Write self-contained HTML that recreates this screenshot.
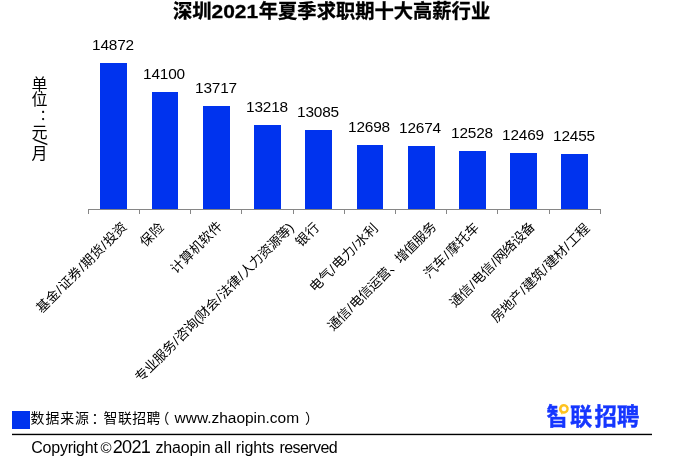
<!DOCTYPE html>
<html lang="zh-CN">
<head>
<meta charset="utf-8">
<title>深圳2021年夏季求职期十大高薪行业</title>
<style>
html,body{margin:0;padding:0;background:#fff;}
body{width:687px;height:462px;overflow:hidden;position:relative;font-family:"Liberation Sans","Noto Sans CJK SC",sans-serif;}
svg{position:absolute;left:0;top:0;display:block;}
svg text{font-family:"Liberation Sans","Noto Sans CJK SC",sans-serif;fill:#000;}
.t{font-size:19.3px;font-weight:bold;stroke:#000;stroke-width:0.3px;}
.v{font-size:15.4px;text-anchor:middle;letter-spacing:-0.15px;}
.c{font-size:13.3px;text-anchor:end;}
.u{font-size:16px;text-anchor:middle;}
.bar{fill:#0033ee;shape-rendering:crispEdges;}
.ax{fill:#868686;shape-rendering:crispEdges;}
</style>
</head>
<body>
<svg width="687" height="462" viewBox="0 0 687 462">
<rect x="0" y="0" width="687" height="462" fill="#ffffff"/>
<!-- title -->
<text class="t"><tspan x="173" y="18.2">深圳</tspan><tspan x="211.5" y="17.6" style="font-size:18.4px" textLength="46.6" lengthAdjust="spacingAndGlyphs">2021</tspan><tspan x="258.8" y="18.2">年夏季求职期十大高薪行业</tspan></text>
<!-- y axis unit -->
<text class="u"><tspan x="39.4" y="89.5">单</tspan><tspan x="39.4" y="105.2">位</tspan><tspan x="39.4" y="120.4" style="font-size:14.5px;text-anchor:start">：</tspan><tspan x="39.4" y="137.8">元</tspan><tspan x="34.37" y="138.74" rotate="96" style="font-size:18.5px;text-anchor:start">/</tspan><tspan x="39.4" y="159.3" rotate="0">月</tspan></text>
<!-- bars -->
<rect class="bar" x="100" y="63" width="27" height="146"/>
<rect class="bar" x="152" y="92" width="26" height="117"/>
<rect class="bar" x="203" y="106" width="27" height="103"/>
<rect class="bar" x="254" y="125" width="27" height="84"/>
<rect class="bar" x="305" y="130" width="27" height="79"/>
<rect class="bar" x="357" y="145" width="26" height="64"/>
<rect class="bar" x="408" y="146" width="27" height="63"/>
<rect class="bar" x="459" y="151" width="27" height="58"/>
<rect class="bar" x="510" y="153" width="27" height="56"/>
<rect class="bar" x="561" y="154" width="27" height="55"/>
<!-- axis -->
<rect class="ax" x="88" y="209" width="513" height="1"/>
<rect class="ax" x="88" y="209" width="1" height="5"/>
<rect class="ax" x="139" y="209" width="1" height="5"/>
<rect class="ax" x="190" y="209" width="1" height="5"/>
<rect class="ax" x="241" y="209" width="1" height="5"/>
<rect class="ax" x="293" y="209" width="1" height="5"/>
<rect class="ax" x="344" y="209" width="1" height="5"/>
<rect class="ax" x="395" y="209" width="1" height="5"/>
<rect class="ax" x="446" y="209" width="1" height="5"/>
<rect class="ax" x="497" y="209" width="1" height="5"/>
<rect class="ax" x="549" y="209" width="1" height="5"/>
<rect class="ax" x="600" y="209" width="1" height="5"/>
<!-- value labels -->
<text class="v" x="113.0" y="49.6">14872</text>
<text class="v" x="164.0" y="78.6">14100</text>
<text class="v" x="216.0" y="92.6">13717</text>
<text class="v" x="267.0" y="111.6">13218</text>
<text class="v" x="318.0" y="116.6">13085</text>
<text class="v" x="369.0" y="131.6">12698</text>
<text class="v" x="420.0" y="132.6">12674</text>
<text class="v" x="472.0" y="137.6">12528</text>
<text class="v" x="523.0" y="139.6">12469</text>
<text class="v" x="574.0" y="140.6">12455</text>
<!-- category labels -->
<text class="c" dx="-0.03 -0.06 0.70 0.70 -0.06 0.70 0.70 -0.06 0.70 0.70 -0.06" transform="translate(127.7 227.8) rotate(-45)">基金/证券/期货/投资</text>
<text class="c" dx="0.30 0.60" transform="translate(164.5 228.5) rotate(-45)">保险</text>
<text class="c" dx="0.05 0.11 0.11 0.11 0.11" transform="translate(223.2 227.0) rotate(-45)">计算机软件</text>
<text class="c" dx="-0.17 -0.34 -0.34 -0.34 0.51 0.51 -0.34 -0.38 -0.38 -0.34 0.51 0.51 -0.34 0.51 0.51 -0.34 -0.34 -0.34 -0.34 -0.38" transform="translate(294.7 228.5) rotate(-45)">专业服务/咨询(财会/法律/人力资源等)</text>
<text class="c" dx="0.30 0.60" transform="translate(319.9 228.6) rotate(-45)">银行</text>
<text class="c" dx="0.00 0.00 0.74 0.74 0.00 0.74 0.74 0.00" transform="translate(378.8 229.0) rotate(-45)">电气/电力/水利</text>
<text class="c" dx="-0.23 -0.46 0.43 0.43 -0.46 -0.46 -0.46 -0.46 -0.46 -0.46 -0.46 -0.46" transform="translate(437.2 227.5) rotate(-45)">通信/电信运营、增值服务</text>
<text class="c" dx="0.01 0.02 0.76 0.76 0.02 0.02" transform="translate(479.9 228.3) rotate(-45)">汽车/摩托车</text>
<text class="c" dx="-0.19 -0.37 0.49 0.49 -0.37 0.49 0.49 -0.37 -0.37 -0.37" transform="translate(535.9 227.4) rotate(-45)">通信/电信/网络设备</text>
<text class="c" dx="-0.12 -0.25 -0.25 0.57 0.57 -0.25 0.57 0.57 -0.25 0.57 0.57 -0.25" transform="translate(590.6 229.1) rotate(-45)">房地产/建筑/建材/工程</text>
<!-- legend / source -->
<rect class="bar" x="12" y="411" width="18" height="18"/>
<text y="423.2" font-size="13.9"><tspan x="30.6" letter-spacing="0.9">数据来源</tspan><tspan x="91.5">：</tspan><tspan x="103.6" letter-spacing="0.45">智联招聘</tspan><tspan x="155.6">（</tspan><tspan x="174.6" y="423" font-size="15.5" textLength="124.5" lengthAdjust="spacing">www.zhaopin.com</tspan><tspan x="305" y="423.2">）</tspan></text>
<rect x="12" y="433.75" width="640" height="1.4" fill="#000"/>
<text y="453" font-size="16"><tspan x="31.2" letter-spacing="-0.22">Copyright</tspan><tspan x="100.5" font-size="15">©</tspan><tspan x="112.8" font-size="18.1" letter-spacing="-0.75">2021 </tspan><tspan x="155.4" letter-spacing="-0.15">zhaopin </tspan><tspan x="214.5" letter-spacing="0.3">all </tspan><tspan x="235.8" letter-spacing="-0.15">rights </tspan><tspan x="279.6" letter-spacing="-0.6">reserved</tspan></text>
<!-- logo -->
<g>
<g transform="translate(546.5 424.8) scale(0.924 1)"><text x="0" y="0" dx="0 0 1.1 -1.1" font-size="24.2" font-weight="bold" letter-spacing="1.23" style="fill:#1536ff;stroke:#1536ff;stroke-width:0.4">智联招聘</text></g>
<rect x="557.7" y="401" width="12.5" height="15.3" fill="#fff"/>
<path d="M564 404.1a4.8 4.8 0 1 1 -1.7 9.3l-0.2 1.5l-1.6 -2.5a4.8 4.8 0 0 1 3.5 -8.3zm0 2.4a2.4 2.4 0 1 0 0.01 0z" fill="#ffc31f" fill-rule="evenodd"/>
</g>
</svg>
</body>
</html>
